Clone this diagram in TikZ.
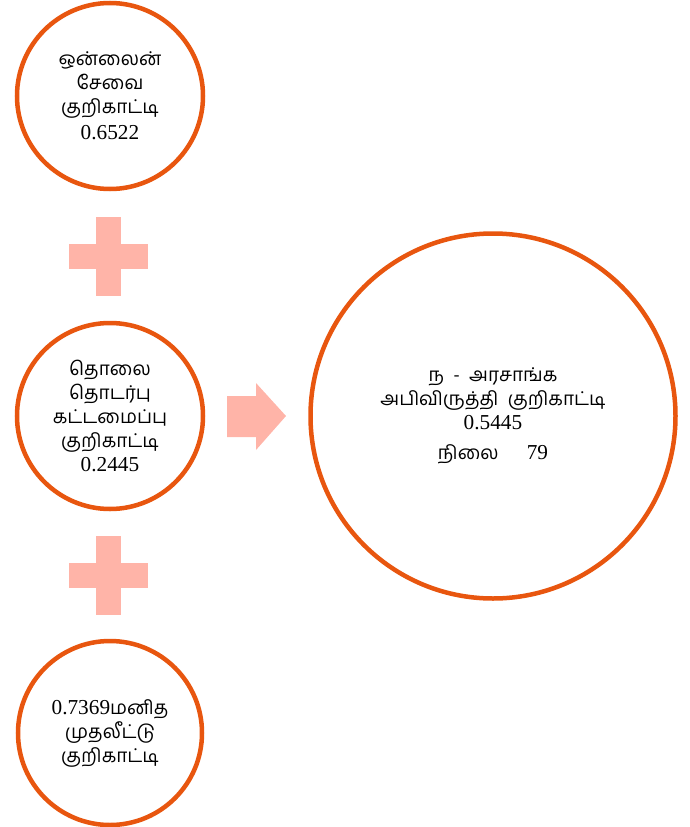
\documentclass[tikz,border=0pt]{standalone}
\usepackage{fontspec}
\setmainfont{Liberation Serif}[Scale=1.12]
\newfontfamily\tamil[Script=Tamil]{Hind Madurai}
\definecolor{ringc}{HTML}{E8560F}
\definecolor{plusc}{HTML}{FFB4A8}
\newcommand{\ta}[1]{{\tamil #1}}
\tikzset{
  ring/.style={circle, draw=ringc, line width=4.5pt, inner sep=0pt, align=center,
    font=\fontsize{19}{24}\selectfont},
  shapefill/.style={fill=plusc, draw=none}
}
\begin{document}
\begin{tikzpicture}[x=1pt,y=-1pt]
\useasboundingbox (0,0) rectangle (689,827);
\node[ring, minimum size=186pt] (c1) at (110,96)
  {\ta{ஒன்லைன்}\\\ta{சேவை}\\\ta{குறிகாட்டி}\\[2pt]0.6522};
\node[ring, minimum size=186pt] (c2) at (110,416)
  {\ta{தொலை}\\\ta{தொடர்பு}\\\ta{கட்டமைப்பு}\\\ta{குறிகாட்டி}\\0.2445};
\node[ring, minimum size=184pt] (c3) at (110,733)
  {0.7369\ta{மனித}\\\ta{முதலீட்டு}\\\ta{குறிகாட்டி}};
\node[ring, minimum size=365pt] (big) at (493,416)
  {\ta{ந\ \ -\ \ அரசாங்க}\\\ta{அபிவிருத்தி\ \ குறிகாட்டி}\\0.5445\\[6pt]\ta{நிலை}\hspace{28pt}79};
% plus signs
\foreach \cy in {257,576}{
  \fill[shapefill] (96,\cy-40) rectangle (121,\cy+39);
  \fill[shapefill] (69,\cy-13) rectangle (148,\cy+12);
}
% arrow
\fill[shapefill] (227,396) -- (256,396) -- (256,383) -- (286,416) -- (256,450) -- (256,437) -- (227,437) -- cycle;
\end{tikzpicture}
\end{document}
